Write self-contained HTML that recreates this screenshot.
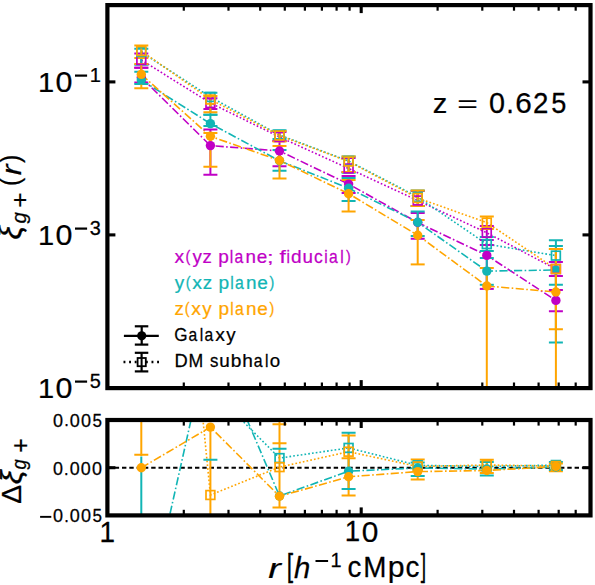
<!DOCTYPE html>
<html><head><meta charset="utf-8"><style>
html,body{margin:0;padding:0;background:#fff;width:595px;height:585px;overflow:hidden}
svg{display:block}
text{font-family:"Liberation Sans",sans-serif;font-kerning:none;font-variant-ligatures:none}
</style></head><body>
<svg width="595" height="585" viewBox="0 0 595 585">
<rect width="595" height="585" fill="#fff"/>
<defs><clipPath id="cu"><rect x="107.4" y="5.1" width="483.1" height="383.0"/></clipPath>
<clipPath id="cl"><rect x="107.4" y="420.0" width="483.1" height="95.39999999999998"/></clipPath></defs>
<g clip-path="url(#cu)">
<polyline points="141.3,60 210.4,103 279.5,137 348.6,168.5 417.7,200.5 486.8,232.8 555.9,269" fill="none" stroke="#c000c6" stroke-width="1.6" stroke-dasharray="1.7 2.1"/>
<polyline points="141.3,52 210.4,97 279.5,135 348.6,161 417.7,197 486.8,244.1 555.9,255.6" fill="none" stroke="#12b5b5" stroke-width="1.6" stroke-dasharray="1.7 2.1"/>
<polyline points="141.3,51 210.4,99.5 279.5,135.5 348.6,161.5 417.7,198 486.8,222.6 555.9,269" fill="none" stroke="#ffa500" stroke-width="1.6" stroke-dasharray="1.7 2.1"/>
<polyline points="141.3,77.5 210.4,145.6 279.5,151 348.6,184.1 417.7,222.5 486.8,255.4 555.9,300.4" fill="none" stroke="#c000c6" stroke-width="1.6" stroke-dasharray="8.2 2.4 1.6 2.4"/>
<polyline points="141.3,80 210.4,123.6 279.5,160.8 348.6,188.2 417.7,222.3 486.8,271.1 555.9,270" fill="none" stroke="#12b5b5" stroke-width="1.6" stroke-dasharray="8.2 2.4 1.6 2.4"/>
<polyline points="141.3,74.4 210.4,136.3 279.5,160.5 348.6,193.7 417.7,235.2 486.8,286 555.9,292" fill="none" stroke="#ffa500" stroke-width="1.6" stroke-dasharray="8.2 2.4 1.6 2.4"/>
<line x1="141.3" y1="53.4" x2="141.3" y2="67.7" stroke="#c000c6" stroke-width="2" stroke-linecap="butt"/>
<line x1="134.3" y1="53.4" x2="148.3" y2="53.4" stroke="#c000c6" stroke-width="2" stroke-linecap="butt"/>
<line x1="134.3" y1="67.7" x2="148.3" y2="67.7" stroke="#c000c6" stroke-width="2" stroke-linecap="butt"/>
<line x1="210.4" y1="98.3" x2="210.4" y2="109.1" stroke="#c000c6" stroke-width="2" stroke-linecap="butt"/>
<line x1="203.4" y1="98.3" x2="217.4" y2="98.3" stroke="#c000c6" stroke-width="2" stroke-linecap="butt"/>
<line x1="203.4" y1="109.1" x2="217.4" y2="109.1" stroke="#c000c6" stroke-width="2" stroke-linecap="butt"/>
<line x1="279.5" y1="132" x2="279.5" y2="141" stroke="#c000c6" stroke-width="2" stroke-linecap="butt"/>
<line x1="272.5" y1="132" x2="286.5" y2="132" stroke="#c000c6" stroke-width="2" stroke-linecap="butt"/>
<line x1="272.5" y1="141" x2="286.5" y2="141" stroke="#c000c6" stroke-width="2" stroke-linecap="butt"/>
<line x1="348.6" y1="158" x2="348.6" y2="172" stroke="#c000c6" stroke-width="2" stroke-linecap="butt"/>
<line x1="341.6" y1="158" x2="355.6" y2="158" stroke="#c000c6" stroke-width="2" stroke-linecap="butt"/>
<line x1="341.6" y1="172" x2="355.6" y2="172" stroke="#c000c6" stroke-width="2" stroke-linecap="butt"/>
<line x1="417.7" y1="191" x2="417.7" y2="206" stroke="#c000c6" stroke-width="2" stroke-linecap="butt"/>
<line x1="410.7" y1="191" x2="424.7" y2="191" stroke="#c000c6" stroke-width="2" stroke-linecap="butt"/>
<line x1="410.7" y1="206" x2="424.7" y2="206" stroke="#c000c6" stroke-width="2" stroke-linecap="butt"/>
<line x1="486.8" y1="226" x2="486.8" y2="240" stroke="#c000c6" stroke-width="2" stroke-linecap="butt"/>
<line x1="479.8" y1="226" x2="493.8" y2="226" stroke="#c000c6" stroke-width="2" stroke-linecap="butt"/>
<line x1="479.8" y1="240" x2="493.8" y2="240" stroke="#c000c6" stroke-width="2" stroke-linecap="butt"/>
<line x1="555.9" y1="262" x2="555.9" y2="276" stroke="#c000c6" stroke-width="2" stroke-linecap="butt"/>
<line x1="548.9" y1="262" x2="562.9" y2="262" stroke="#c000c6" stroke-width="2" stroke-linecap="butt"/>
<line x1="548.9" y1="276" x2="562.9" y2="276" stroke="#c000c6" stroke-width="2" stroke-linecap="butt"/>
<line x1="141.3" y1="67.7" x2="141.3" y2="82.6" stroke="#c000c6" stroke-width="2" stroke-linecap="butt"/>
<line x1="134.3" y1="67.7" x2="148.3" y2="67.7" stroke="#c000c6" stroke-width="2" stroke-linecap="butt"/>
<line x1="134.3" y1="82.6" x2="148.3" y2="82.6" stroke="#c000c6" stroke-width="2" stroke-linecap="butt"/>
<line x1="210.4" y1="129.6" x2="210.4" y2="174.8" stroke="#c000c6" stroke-width="2" stroke-linecap="butt"/>
<line x1="203.4" y1="129.6" x2="217.4" y2="129.6" stroke="#c000c6" stroke-width="2" stroke-linecap="butt"/>
<line x1="203.4" y1="174.8" x2="217.4" y2="174.8" stroke="#c000c6" stroke-width="2" stroke-linecap="butt"/>
<line x1="279.5" y1="141" x2="279.5" y2="166.2" stroke="#c000c6" stroke-width="2" stroke-linecap="butt"/>
<line x1="272.5" y1="141" x2="286.5" y2="141" stroke="#c000c6" stroke-width="2" stroke-linecap="butt"/>
<line x1="272.5" y1="166.2" x2="286.5" y2="166.2" stroke="#c000c6" stroke-width="2" stroke-linecap="butt"/>
<line x1="348.6" y1="175.9" x2="348.6" y2="193" stroke="#c000c6" stroke-width="2" stroke-linecap="butt"/>
<line x1="341.6" y1="175.9" x2="355.6" y2="175.9" stroke="#c000c6" stroke-width="2" stroke-linecap="butt"/>
<line x1="341.6" y1="193" x2="355.6" y2="193" stroke="#c000c6" stroke-width="2" stroke-linecap="butt"/>
<line x1="417.7" y1="213" x2="417.7" y2="238.7" stroke="#c000c6" stroke-width="2" stroke-linecap="butt"/>
<line x1="410.7" y1="213" x2="424.7" y2="213" stroke="#c000c6" stroke-width="2" stroke-linecap="butt"/>
<line x1="410.7" y1="238.7" x2="424.7" y2="238.7" stroke="#c000c6" stroke-width="2" stroke-linecap="butt"/>
<line x1="486.8" y1="245" x2="486.8" y2="288.9" stroke="#c000c6" stroke-width="2" stroke-linecap="butt"/>
<line x1="479.8" y1="245" x2="493.8" y2="245" stroke="#c000c6" stroke-width="2" stroke-linecap="butt"/>
<line x1="479.8" y1="288.9" x2="493.8" y2="288.9" stroke="#c000c6" stroke-width="2" stroke-linecap="butt"/>
<line x1="555.9" y1="290" x2="555.9" y2="311.2" stroke="#c000c6" stroke-width="2" stroke-linecap="butt"/>
<line x1="548.9" y1="290" x2="562.9" y2="290" stroke="#c000c6" stroke-width="2" stroke-linecap="butt"/>
<line x1="548.9" y1="311.2" x2="562.9" y2="311.2" stroke="#c000c6" stroke-width="2" stroke-linecap="butt"/>
<line x1="141.3" y1="48.8" x2="141.3" y2="64.7" stroke="#12b5b5" stroke-width="2" stroke-linecap="butt"/>
<line x1="134.3" y1="48.8" x2="148.3" y2="48.8" stroke="#12b5b5" stroke-width="2" stroke-linecap="butt"/>
<line x1="134.3" y1="64.7" x2="148.3" y2="64.7" stroke="#12b5b5" stroke-width="2" stroke-linecap="butt"/>
<line x1="210.4" y1="92.7" x2="210.4" y2="114.7" stroke="#12b5b5" stroke-width="2" stroke-linecap="butt"/>
<line x1="203.4" y1="92.7" x2="217.4" y2="92.7" stroke="#12b5b5" stroke-width="2" stroke-linecap="butt"/>
<line x1="203.4" y1="114.7" x2="217.4" y2="114.7" stroke="#12b5b5" stroke-width="2" stroke-linecap="butt"/>
<line x1="279.5" y1="130.3" x2="279.5" y2="139" stroke="#12b5b5" stroke-width="2" stroke-linecap="butt"/>
<line x1="272.5" y1="130.3" x2="286.5" y2="130.3" stroke="#12b5b5" stroke-width="2" stroke-linecap="butt"/>
<line x1="272.5" y1="139" x2="286.5" y2="139" stroke="#12b5b5" stroke-width="2" stroke-linecap="butt"/>
<line x1="348.6" y1="156.4" x2="348.6" y2="172.8" stroke="#12b5b5" stroke-width="2" stroke-linecap="butt"/>
<line x1="341.6" y1="156.4" x2="355.6" y2="156.4" stroke="#12b5b5" stroke-width="2" stroke-linecap="butt"/>
<line x1="341.6" y1="172.8" x2="355.6" y2="172.8" stroke="#12b5b5" stroke-width="2" stroke-linecap="butt"/>
<line x1="417.7" y1="190.5" x2="417.7" y2="205.9" stroke="#12b5b5" stroke-width="2" stroke-linecap="butt"/>
<line x1="410.7" y1="190.5" x2="424.7" y2="190.5" stroke="#12b5b5" stroke-width="2" stroke-linecap="butt"/>
<line x1="410.7" y1="205.9" x2="424.7" y2="205.9" stroke="#12b5b5" stroke-width="2" stroke-linecap="butt"/>
<line x1="486.8" y1="237" x2="486.8" y2="251" stroke="#12b5b5" stroke-width="2" stroke-linecap="butt"/>
<line x1="479.8" y1="237" x2="493.8" y2="237" stroke="#12b5b5" stroke-width="2" stroke-linecap="butt"/>
<line x1="479.8" y1="251" x2="493.8" y2="251" stroke="#12b5b5" stroke-width="2" stroke-linecap="butt"/>
<line x1="555.9" y1="246" x2="555.9" y2="284.7" stroke="#12b5b5" stroke-width="2" stroke-linecap="butt"/>
<line x1="548.9" y1="246" x2="562.9" y2="246" stroke="#12b5b5" stroke-width="2" stroke-linecap="butt"/>
<line x1="548.9" y1="284.7" x2="562.9" y2="284.7" stroke="#12b5b5" stroke-width="2" stroke-linecap="butt"/>
<line x1="141.3" y1="71.8" x2="141.3" y2="84" stroke="#12b5b5" stroke-width="2" stroke-linecap="butt"/>
<line x1="134.3" y1="71.8" x2="148.3" y2="71.8" stroke="#12b5b5" stroke-width="2" stroke-linecap="butt"/>
<line x1="134.3" y1="84" x2="148.3" y2="84" stroke="#12b5b5" stroke-width="2" stroke-linecap="butt"/>
<line x1="210.4" y1="114.7" x2="210.4" y2="126" stroke="#12b5b5" stroke-width="2" stroke-linecap="butt"/>
<line x1="203.4" y1="114.7" x2="217.4" y2="114.7" stroke="#12b5b5" stroke-width="2" stroke-linecap="butt"/>
<line x1="203.4" y1="126" x2="217.4" y2="126" stroke="#12b5b5" stroke-width="2" stroke-linecap="butt"/>
<line x1="279.5" y1="150" x2="279.5" y2="170.8" stroke="#12b5b5" stroke-width="2" stroke-linecap="butt"/>
<line x1="272.5" y1="150" x2="286.5" y2="150" stroke="#12b5b5" stroke-width="2" stroke-linecap="butt"/>
<line x1="272.5" y1="170.8" x2="286.5" y2="170.8" stroke="#12b5b5" stroke-width="2" stroke-linecap="butt"/>
<line x1="348.6" y1="178" x2="348.6" y2="200.9" stroke="#12b5b5" stroke-width="2" stroke-linecap="butt"/>
<line x1="341.6" y1="178" x2="355.6" y2="178" stroke="#12b5b5" stroke-width="2" stroke-linecap="butt"/>
<line x1="341.6" y1="200.9" x2="355.6" y2="200.9" stroke="#12b5b5" stroke-width="2" stroke-linecap="butt"/>
<line x1="417.7" y1="211.6" x2="417.7" y2="236" stroke="#12b5b5" stroke-width="2" stroke-linecap="butt"/>
<line x1="410.7" y1="211.6" x2="424.7" y2="211.6" stroke="#12b5b5" stroke-width="2" stroke-linecap="butt"/>
<line x1="410.7" y1="236" x2="424.7" y2="236" stroke="#12b5b5" stroke-width="2" stroke-linecap="butt"/>
<line x1="486.8" y1="258" x2="486.8" y2="284.8" stroke="#12b5b5" stroke-width="2" stroke-linecap="butt"/>
<line x1="479.8" y1="258" x2="493.8" y2="258" stroke="#12b5b5" stroke-width="2" stroke-linecap="butt"/>
<line x1="479.8" y1="284.8" x2="493.8" y2="284.8" stroke="#12b5b5" stroke-width="2" stroke-linecap="butt"/>
<line x1="555.9" y1="240.3" x2="555.9" y2="342.5" stroke="#12b5b5" stroke-width="2" stroke-linecap="butt"/>
<line x1="548.9" y1="240.3" x2="562.9" y2="240.3" stroke="#12b5b5" stroke-width="2" stroke-linecap="butt"/>
<line x1="548.9" y1="342.5" x2="562.9" y2="342.5" stroke="#12b5b5" stroke-width="2" stroke-linecap="butt"/>
<line x1="141.3" y1="45.4" x2="141.3" y2="58" stroke="#ffa500" stroke-width="2" stroke-linecap="butt"/>
<line x1="134.3" y1="45.4" x2="148.3" y2="45.4" stroke="#ffa500" stroke-width="2" stroke-linecap="butt"/>
<line x1="134.3" y1="58" x2="148.3" y2="58" stroke="#ffa500" stroke-width="2" stroke-linecap="butt"/>
<line x1="210.4" y1="96" x2="210.4" y2="112.2" stroke="#ffa500" stroke-width="2" stroke-linecap="butt"/>
<line x1="203.4" y1="96" x2="217.4" y2="96" stroke="#ffa500" stroke-width="2" stroke-linecap="butt"/>
<line x1="203.4" y1="112.2" x2="217.4" y2="112.2" stroke="#ffa500" stroke-width="2" stroke-linecap="butt"/>
<line x1="279.5" y1="131" x2="279.5" y2="141.5" stroke="#ffa500" stroke-width="2" stroke-linecap="butt"/>
<line x1="272.5" y1="131" x2="286.5" y2="131" stroke="#ffa500" stroke-width="2" stroke-linecap="butt"/>
<line x1="272.5" y1="141.5" x2="286.5" y2="141.5" stroke="#ffa500" stroke-width="2" stroke-linecap="butt"/>
<line x1="348.6" y1="156.4" x2="348.6" y2="172" stroke="#ffa500" stroke-width="2" stroke-linecap="butt"/>
<line x1="341.6" y1="156.4" x2="355.6" y2="156.4" stroke="#ffa500" stroke-width="2" stroke-linecap="butt"/>
<line x1="341.6" y1="172" x2="355.6" y2="172" stroke="#ffa500" stroke-width="2" stroke-linecap="butt"/>
<line x1="417.7" y1="190.5" x2="417.7" y2="205.9" stroke="#ffa500" stroke-width="2" stroke-linecap="butt"/>
<line x1="410.7" y1="190.5" x2="424.7" y2="190.5" stroke="#ffa500" stroke-width="2" stroke-linecap="butt"/>
<line x1="410.7" y1="205.9" x2="424.7" y2="205.9" stroke="#ffa500" stroke-width="2" stroke-linecap="butt"/>
<line x1="486.8" y1="216.4" x2="486.8" y2="229" stroke="#ffa500" stroke-width="2" stroke-linecap="butt"/>
<line x1="479.8" y1="216.4" x2="493.8" y2="216.4" stroke="#ffa500" stroke-width="2" stroke-linecap="butt"/>
<line x1="479.8" y1="229" x2="493.8" y2="229" stroke="#ffa500" stroke-width="2" stroke-linecap="butt"/>
<line x1="555.9" y1="248.9" x2="555.9" y2="329.3" stroke="#ffa500" stroke-width="2" stroke-linecap="butt"/>
<line x1="548.9" y1="248.9" x2="562.9" y2="248.9" stroke="#ffa500" stroke-width="2" stroke-linecap="butt"/>
<line x1="548.9" y1="329.3" x2="562.9" y2="329.3" stroke="#ffa500" stroke-width="2" stroke-linecap="butt"/>
<line x1="141.3" y1="64" x2="141.3" y2="88.3" stroke="#ffa500" stroke-width="2" stroke-linecap="butt"/>
<line x1="134.3" y1="64" x2="148.3" y2="64" stroke="#ffa500" stroke-width="2" stroke-linecap="butt"/>
<line x1="134.3" y1="88.3" x2="148.3" y2="88.3" stroke="#ffa500" stroke-width="2" stroke-linecap="butt"/>
<line x1="210.4" y1="133" x2="210.4" y2="166.8" stroke="#ffa500" stroke-width="2" stroke-linecap="butt"/>
<line x1="203.4" y1="133" x2="217.4" y2="133" stroke="#ffa500" stroke-width="2" stroke-linecap="butt"/>
<line x1="203.4" y1="166.8" x2="217.4" y2="166.8" stroke="#ffa500" stroke-width="2" stroke-linecap="butt"/>
<line x1="279.5" y1="146" x2="279.5" y2="178.5" stroke="#ffa500" stroke-width="2" stroke-linecap="butt"/>
<line x1="272.5" y1="146" x2="286.5" y2="146" stroke="#ffa500" stroke-width="2" stroke-linecap="butt"/>
<line x1="272.5" y1="178.5" x2="286.5" y2="178.5" stroke="#ffa500" stroke-width="2" stroke-linecap="butt"/>
<line x1="348.6" y1="180" x2="348.6" y2="211.4" stroke="#ffa500" stroke-width="2" stroke-linecap="butt"/>
<line x1="341.6" y1="180" x2="355.6" y2="180" stroke="#ffa500" stroke-width="2" stroke-linecap="butt"/>
<line x1="341.6" y1="211.4" x2="355.6" y2="211.4" stroke="#ffa500" stroke-width="2" stroke-linecap="butt"/>
<line x1="417.7" y1="220" x2="417.7" y2="264.4" stroke="#ffa500" stroke-width="2" stroke-linecap="butt"/>
<line x1="410.7" y1="220" x2="424.7" y2="220" stroke="#ffa500" stroke-width="2" stroke-linecap="butt"/>
<line x1="410.7" y1="264.4" x2="424.7" y2="264.4" stroke="#ffa500" stroke-width="2" stroke-linecap="butt"/>
<line x1="486.8" y1="268" x2="486.8" y2="400" stroke="#ffa500" stroke-width="2" stroke-linecap="butt"/>
<line x1="479.8" y1="268" x2="493.8" y2="268" stroke="#ffa500" stroke-width="2" stroke-linecap="butt"/>
<line x1="555.9" y1="248.9" x2="555.9" y2="400" stroke="#ffa500" stroke-width="2" stroke-linecap="butt"/>
<line x1="548.9" y1="248.9" x2="562.9" y2="248.9" stroke="#ffa500" stroke-width="2" stroke-linecap="butt"/>
<circle cx="141.3" cy="77.5" r="4.7" fill="#c000c6"/>
<circle cx="210.4" cy="145.6" r="4.7" fill="#c000c6"/>
<circle cx="279.5" cy="151" r="4.7" fill="#c000c6"/>
<circle cx="348.6" cy="184.1" r="4.7" fill="#c000c6"/>
<circle cx="417.7" cy="222.5" r="4.7" fill="#c000c6"/>
<circle cx="486.8" cy="255.4" r="4.7" fill="#c000c6"/>
<circle cx="555.9" cy="300.4" r="4.7" fill="#c000c6"/>
<circle cx="141.3" cy="80" r="4.7" fill="#12b5b5"/>
<circle cx="210.4" cy="123.6" r="4.7" fill="#12b5b5"/>
<circle cx="279.5" cy="160.8" r="4.7" fill="#12b5b5"/>
<circle cx="348.6" cy="188.2" r="4.7" fill="#12b5b5"/>
<circle cx="417.7" cy="222.3" r="4.7" fill="#12b5b5"/>
<circle cx="486.8" cy="271.1" r="4.7" fill="#12b5b5"/>
<circle cx="555.9" cy="270" r="4.7" fill="#12b5b5"/>
<circle cx="141.3" cy="74.4" r="4.7" fill="#ffa500"/>
<circle cx="210.4" cy="136.3" r="4.7" fill="#ffa500"/>
<circle cx="279.5" cy="160.5" r="4.7" fill="#ffa500"/>
<circle cx="348.6" cy="193.7" r="4.7" fill="#ffa500"/>
<circle cx="417.7" cy="235.2" r="4.7" fill="#ffa500"/>
<circle cx="486.8" cy="286" r="4.7" fill="#ffa500"/>
<circle cx="555.9" cy="292" r="4.7" fill="#ffa500"/>
<rect x="136.9" y="55.6" width="8.8" height="8.8" fill="none" stroke="#c000c6" stroke-width="1.7"/>
<rect x="206" y="98.6" width="8.8" height="8.8" fill="none" stroke="#c000c6" stroke-width="1.7"/>
<rect x="275.1" y="132.6" width="8.8" height="8.8" fill="none" stroke="#c000c6" stroke-width="1.7"/>
<rect x="344.2" y="164.1" width="8.8" height="8.8" fill="none" stroke="#c000c6" stroke-width="1.7"/>
<rect x="413.3" y="196.1" width="8.8" height="8.8" fill="none" stroke="#c000c6" stroke-width="1.7"/>
<rect x="482.4" y="228.4" width="8.8" height="8.8" fill="none" stroke="#c000c6" stroke-width="1.7"/>
<rect x="551.5" y="264.6" width="8.8" height="8.8" fill="none" stroke="#c000c6" stroke-width="1.7"/>
<rect x="136.9" y="47.6" width="8.8" height="8.8" fill="none" stroke="#12b5b5" stroke-width="1.7"/>
<rect x="206" y="92.6" width="8.8" height="8.8" fill="none" stroke="#12b5b5" stroke-width="1.7"/>
<rect x="275.1" y="130.6" width="8.8" height="8.8" fill="none" stroke="#12b5b5" stroke-width="1.7"/>
<rect x="344.2" y="156.6" width="8.8" height="8.8" fill="none" stroke="#12b5b5" stroke-width="1.7"/>
<rect x="413.3" y="192.6" width="8.8" height="8.8" fill="none" stroke="#12b5b5" stroke-width="1.7"/>
<rect x="482.4" y="239.7" width="8.8" height="8.8" fill="none" stroke="#12b5b5" stroke-width="1.7"/>
<rect x="551.5" y="251.2" width="8.8" height="8.8" fill="none" stroke="#12b5b5" stroke-width="1.7"/>
<rect x="136.9" y="46.6" width="8.8" height="8.8" fill="none" stroke="#ffa500" stroke-width="1.7"/>
<rect x="206" y="95.1" width="8.8" height="8.8" fill="none" stroke="#ffa500" stroke-width="1.7"/>
<rect x="275.1" y="131.1" width="8.8" height="8.8" fill="none" stroke="#ffa500" stroke-width="1.7"/>
<rect x="344.2" y="157.1" width="8.8" height="8.8" fill="none" stroke="#ffa500" stroke-width="1.7"/>
<rect x="413.3" y="193.6" width="8.8" height="8.8" fill="none" stroke="#ffa500" stroke-width="1.7"/>
<rect x="482.4" y="218.2" width="8.8" height="8.8" fill="none" stroke="#ffa500" stroke-width="1.7"/>
<rect x="551.5" y="264.6" width="8.8" height="8.8" fill="none" stroke="#ffa500" stroke-width="1.7"/>
</g>
<g clip-path="url(#cl)">
<line x1="107.4" y1="467.7" x2="590.5" y2="467.7" stroke="#000" stroke-width="1.9" stroke-linecap="butt" stroke-dasharray="4.4 2.9"/>
<polyline points="141.3,300 210.4,388.6 279.5,458.1 348.6,447.9 417.7,465.3 486.8,466.5 555.9,465" fill="none" stroke="#12b5b5" stroke-width="1.6" stroke-dasharray="1.7 2.1"/>
<polyline points="141.3,-205 210.4,495 279.5,467.1 348.6,451.7 417.7,466.5 486.8,465 555.9,466" fill="none" stroke="#ffa500" stroke-width="1.6" stroke-dasharray="1.7 2.1"/>
<polyline points="141.3,642 210.4,333.5 279.5,496 348.6,471.2 417.7,468 486.8,469 555.9,467" fill="none" stroke="#12b5b5" stroke-width="1.6" stroke-dasharray="8.2 2.4 1.6 2.4"/>
<polyline points="141.3,467.8 210.4,427.1 279.5,496.3 348.6,476.8 417.7,471.6 486.8,470.5 555.9,466.5" fill="none" stroke="#ffa500" stroke-width="1.6" stroke-dasharray="8.2 2.4 1.6 2.4"/>
<line x1="141.3" y1="400" x2="141.3" y2="456" stroke="#ffa500" stroke-width="2" stroke-linecap="butt"/>
<line x1="141.3" y1="456.5" x2="141.3" y2="530" stroke="#12b5b5" stroke-width="2" stroke-linecap="butt"/>
<line x1="210.4" y1="427" x2="210.4" y2="530" stroke="#ffa500" stroke-width="2" stroke-linecap="butt"/>
<line x1="279.5" y1="400" x2="279.5" y2="507.5" stroke="#ffa500" stroke-width="2" stroke-linecap="butt"/>
<line x1="348.6" y1="432.7" x2="348.6" y2="489" stroke="#12b5b5" stroke-width="2" stroke-linecap="butt"/>
<line x1="348.6" y1="435.4" x2="348.6" y2="495.5" stroke="#ffa500" stroke-width="2" stroke-linecap="butt"/>
<line x1="417.7" y1="459.4" x2="417.7" y2="479.4" stroke="#ffa500" stroke-width="2" stroke-linecap="butt"/>
<line x1="486.8" y1="462" x2="486.8" y2="475.6" stroke="#12b5b5" stroke-width="2" stroke-linecap="butt"/>
<line x1="486.8" y1="459.7" x2="486.8" y2="473" stroke="#ffa500" stroke-width="2" stroke-linecap="butt"/>
<line x1="555.9" y1="462" x2="555.9" y2="471.2" stroke="#12b5b5" stroke-width="2" stroke-linecap="butt"/>
<line x1="555.9" y1="463" x2="555.9" y2="471.2" stroke="#ffa500" stroke-width="2" stroke-linecap="butt"/>
<line x1="134.3" y1="454.7" x2="148.3" y2="454.7" stroke="#ffa500" stroke-width="2" stroke-linecap="butt"/>
<line x1="203.4" y1="459.7" x2="217.4" y2="459.7" stroke="#12b5b5" stroke-width="2" stroke-linecap="butt"/>
<line x1="272.5" y1="424.3" x2="286.5" y2="424.3" stroke="#ffa500" stroke-width="2" stroke-linecap="butt"/>
<line x1="272.5" y1="443.2" x2="286.5" y2="443.2" stroke="#ffa500" stroke-width="2" stroke-linecap="butt"/>
<line x1="272.5" y1="448.8" x2="286.5" y2="448.8" stroke="#12b5b5" stroke-width="2" stroke-linecap="butt"/>
<line x1="272.5" y1="507.5" x2="286.5" y2="507.5" stroke="#ffa500" stroke-width="2" stroke-linecap="butt"/>
<line x1="341.6" y1="432.7" x2="355.6" y2="432.7" stroke="#12b5b5" stroke-width="2" stroke-linecap="butt"/>
<line x1="341.6" y1="435.4" x2="355.6" y2="435.4" stroke="#ffa500" stroke-width="2" stroke-linecap="butt"/>
<line x1="341.6" y1="458.2" x2="355.6" y2="458.2" stroke="#ffa500" stroke-width="2" stroke-linecap="butt"/>
<line x1="341.6" y1="489" x2="355.6" y2="489" stroke="#12b5b5" stroke-width="2" stroke-linecap="butt"/>
<line x1="341.6" y1="495.5" x2="355.6" y2="495.5" stroke="#ffa500" stroke-width="2" stroke-linecap="butt"/>
<line x1="410.7" y1="459.4" x2="424.7" y2="459.4" stroke="#ffa500" stroke-width="2" stroke-linecap="butt"/>
<line x1="410.7" y1="462.5" x2="424.7" y2="462.5" stroke="#12b5b5" stroke-width="2" stroke-linecap="butt"/>
<line x1="410.7" y1="476" x2="424.7" y2="476" stroke="#12b5b5" stroke-width="2" stroke-linecap="butt"/>
<line x1="410.7" y1="479.4" x2="424.7" y2="479.4" stroke="#ffa500" stroke-width="2" stroke-linecap="butt"/>
<line x1="479.8" y1="462" x2="493.8" y2="462" stroke="#12b5b5" stroke-width="2" stroke-linecap="butt"/>
<line x1="479.8" y1="459.7" x2="493.8" y2="459.7" stroke="#ffa500" stroke-width="2" stroke-linecap="butt"/>
<line x1="479.8" y1="475.6" x2="493.8" y2="475.6" stroke="#12b5b5" stroke-width="2" stroke-linecap="butt"/>
<line x1="479.8" y1="473" x2="493.8" y2="473" stroke="#ffa500" stroke-width="2" stroke-linecap="butt"/>
<line x1="548.9" y1="462" x2="562.9" y2="462" stroke="#12b5b5" stroke-width="2" stroke-linecap="butt"/>
<line x1="548.9" y1="463.5" x2="562.9" y2="463.5" stroke="#ffa500" stroke-width="2" stroke-linecap="butt"/>
<line x1="548.9" y1="471.2" x2="562.9" y2="471.2" stroke="#ffa500" stroke-width="2" stroke-linecap="butt"/>
<line x1="548.9" y1="470" x2="562.9" y2="470" stroke="#12b5b5" stroke-width="2" stroke-linecap="butt"/>
<rect x="136.9" y="295.6" width="8.8" height="8.8" fill="none" stroke="#12b5b5" stroke-width="1.7"/>
<rect x="206" y="384.2" width="8.8" height="8.8" fill="none" stroke="#12b5b5" stroke-width="1.7"/>
<rect x="275.1" y="453.7" width="8.8" height="8.8" fill="none" stroke="#12b5b5" stroke-width="1.7"/>
<rect x="344.2" y="443.5" width="8.8" height="8.8" fill="none" stroke="#12b5b5" stroke-width="1.7"/>
<rect x="413.3" y="460.9" width="8.8" height="8.8" fill="none" stroke="#12b5b5" stroke-width="1.7"/>
<rect x="482.4" y="462.1" width="8.8" height="8.8" fill="none" stroke="#12b5b5" stroke-width="1.7"/>
<rect x="551.5" y="460.6" width="8.8" height="8.8" fill="none" stroke="#12b5b5" stroke-width="1.7"/>
<rect x="136.9" y="-209.4" width="8.8" height="8.8" fill="none" stroke="#ffa500" stroke-width="1.7"/>
<rect x="206" y="490.6" width="8.8" height="8.8" fill="none" stroke="#ffa500" stroke-width="1.7"/>
<rect x="275.1" y="462.7" width="8.8" height="8.8" fill="none" stroke="#ffa500" stroke-width="1.7"/>
<rect x="344.2" y="447.3" width="8.8" height="8.8" fill="none" stroke="#ffa500" stroke-width="1.7"/>
<rect x="413.3" y="462.1" width="8.8" height="8.8" fill="none" stroke="#ffa500" stroke-width="1.7"/>
<rect x="482.4" y="460.6" width="8.8" height="8.8" fill="none" stroke="#ffa500" stroke-width="1.7"/>
<rect x="551.5" y="461.6" width="8.8" height="8.8" fill="none" stroke="#ffa500" stroke-width="1.7"/>
<circle cx="141.3" cy="642" r="4.7" fill="#12b5b5"/>
<circle cx="210.4" cy="333.5" r="4.7" fill="#12b5b5"/>
<circle cx="279.5" cy="496" r="4.7" fill="#12b5b5"/>
<circle cx="348.6" cy="471.2" r="4.7" fill="#12b5b5"/>
<circle cx="417.7" cy="468" r="4.7" fill="#12b5b5"/>
<circle cx="486.8" cy="469" r="4.7" fill="#12b5b5"/>
<circle cx="555.9" cy="467" r="4.7" fill="#12b5b5"/>
<circle cx="141.3" cy="467.8" r="4.7" fill="#ffa500"/>
<circle cx="210.4" cy="427.1" r="4.7" fill="#ffa500"/>
<circle cx="279.5" cy="496.3" r="4.7" fill="#ffa500"/>
<circle cx="348.6" cy="476.8" r="4.7" fill="#ffa500"/>
<circle cx="417.7" cy="471.6" r="4.7" fill="#ffa500"/>
<circle cx="486.8" cy="470.5" r="4.7" fill="#ffa500"/>
<circle cx="555.9" cy="466.5" r="4.7" fill="#ffa500"/>
</g>
<rect x="107.4" y="5.1" width="483.1" height="383" fill="none" stroke="#000" stroke-width="4.2"/>
<rect x="107.4" y="420" width="483.1" height="95.4" fill="none" stroke="#000" stroke-width="4.2"/>
<line x1="183.8" y1="5.1" x2="183.8" y2="10.7" stroke="#000" stroke-width="2.2" stroke-linecap="butt"/>
<line x1="183.8" y1="388.1" x2="183.8" y2="382.5" stroke="#000" stroke-width="2.2" stroke-linecap="butt"/>
<line x1="228.49" y1="5.1" x2="228.49" y2="10.7" stroke="#000" stroke-width="2.2" stroke-linecap="butt"/>
<line x1="228.49" y1="388.1" x2="228.49" y2="382.5" stroke="#000" stroke-width="2.2" stroke-linecap="butt"/>
<line x1="260.2" y1="5.1" x2="260.2" y2="10.7" stroke="#000" stroke-width="2.2" stroke-linecap="butt"/>
<line x1="260.2" y1="388.1" x2="260.2" y2="382.5" stroke="#000" stroke-width="2.2" stroke-linecap="butt"/>
<line x1="284.8" y1="5.1" x2="284.8" y2="10.7" stroke="#000" stroke-width="2.2" stroke-linecap="butt"/>
<line x1="284.8" y1="388.1" x2="284.8" y2="382.5" stroke="#000" stroke-width="2.2" stroke-linecap="butt"/>
<line x1="304.89" y1="5.1" x2="304.89" y2="10.7" stroke="#000" stroke-width="2.2" stroke-linecap="butt"/>
<line x1="304.89" y1="388.1" x2="304.89" y2="382.5" stroke="#000" stroke-width="2.2" stroke-linecap="butt"/>
<line x1="321.89" y1="5.1" x2="321.89" y2="10.7" stroke="#000" stroke-width="2.2" stroke-linecap="butt"/>
<line x1="321.89" y1="388.1" x2="321.89" y2="382.5" stroke="#000" stroke-width="2.2" stroke-linecap="butt"/>
<line x1="336.6" y1="5.1" x2="336.6" y2="10.7" stroke="#000" stroke-width="2.2" stroke-linecap="butt"/>
<line x1="336.6" y1="388.1" x2="336.6" y2="382.5" stroke="#000" stroke-width="2.2" stroke-linecap="butt"/>
<line x1="349.59" y1="5.1" x2="349.59" y2="10.7" stroke="#000" stroke-width="2.2" stroke-linecap="butt"/>
<line x1="349.59" y1="388.1" x2="349.59" y2="382.5" stroke="#000" stroke-width="2.2" stroke-linecap="butt"/>
<line x1="437.6" y1="5.1" x2="437.6" y2="10.7" stroke="#000" stroke-width="2.2" stroke-linecap="butt"/>
<line x1="437.6" y1="388.1" x2="437.6" y2="382.5" stroke="#000" stroke-width="2.2" stroke-linecap="butt"/>
<line x1="482.29" y1="5.1" x2="482.29" y2="10.7" stroke="#000" stroke-width="2.2" stroke-linecap="butt"/>
<line x1="482.29" y1="388.1" x2="482.29" y2="382.5" stroke="#000" stroke-width="2.2" stroke-linecap="butt"/>
<line x1="514" y1="5.1" x2="514" y2="10.7" stroke="#000" stroke-width="2.2" stroke-linecap="butt"/>
<line x1="514" y1="388.1" x2="514" y2="382.5" stroke="#000" stroke-width="2.2" stroke-linecap="butt"/>
<line x1="538.6" y1="5.1" x2="538.6" y2="10.7" stroke="#000" stroke-width="2.2" stroke-linecap="butt"/>
<line x1="538.6" y1="388.1" x2="538.6" y2="382.5" stroke="#000" stroke-width="2.2" stroke-linecap="butt"/>
<line x1="558.69" y1="5.1" x2="558.69" y2="10.7" stroke="#000" stroke-width="2.2" stroke-linecap="butt"/>
<line x1="558.69" y1="388.1" x2="558.69" y2="382.5" stroke="#000" stroke-width="2.2" stroke-linecap="butt"/>
<line x1="575.69" y1="5.1" x2="575.69" y2="10.7" stroke="#000" stroke-width="2.2" stroke-linecap="butt"/>
<line x1="575.69" y1="388.1" x2="575.69" y2="382.5" stroke="#000" stroke-width="2.2" stroke-linecap="butt"/>
<line x1="361.2" y1="5.1" x2="361.2" y2="13.1" stroke="#000" stroke-width="3.1" stroke-linecap="butt"/>
<line x1="361.2" y1="388.1" x2="361.2" y2="380.1" stroke="#000" stroke-width="3.1" stroke-linecap="butt"/>
<line x1="183.8" y1="420" x2="183.8" y2="425.6" stroke="#000" stroke-width="2.2" stroke-linecap="butt"/>
<line x1="183.8" y1="515.4" x2="183.8" y2="509.8" stroke="#000" stroke-width="2.2" stroke-linecap="butt"/>
<line x1="228.49" y1="420" x2="228.49" y2="425.6" stroke="#000" stroke-width="2.2" stroke-linecap="butt"/>
<line x1="228.49" y1="515.4" x2="228.49" y2="509.8" stroke="#000" stroke-width="2.2" stroke-linecap="butt"/>
<line x1="260.2" y1="420" x2="260.2" y2="425.6" stroke="#000" stroke-width="2.2" stroke-linecap="butt"/>
<line x1="260.2" y1="515.4" x2="260.2" y2="509.8" stroke="#000" stroke-width="2.2" stroke-linecap="butt"/>
<line x1="284.8" y1="420" x2="284.8" y2="425.6" stroke="#000" stroke-width="2.2" stroke-linecap="butt"/>
<line x1="284.8" y1="515.4" x2="284.8" y2="509.8" stroke="#000" stroke-width="2.2" stroke-linecap="butt"/>
<line x1="304.89" y1="420" x2="304.89" y2="425.6" stroke="#000" stroke-width="2.2" stroke-linecap="butt"/>
<line x1="304.89" y1="515.4" x2="304.89" y2="509.8" stroke="#000" stroke-width="2.2" stroke-linecap="butt"/>
<line x1="321.89" y1="420" x2="321.89" y2="425.6" stroke="#000" stroke-width="2.2" stroke-linecap="butt"/>
<line x1="321.89" y1="515.4" x2="321.89" y2="509.8" stroke="#000" stroke-width="2.2" stroke-linecap="butt"/>
<line x1="336.6" y1="420" x2="336.6" y2="425.6" stroke="#000" stroke-width="2.2" stroke-linecap="butt"/>
<line x1="336.6" y1="515.4" x2="336.6" y2="509.8" stroke="#000" stroke-width="2.2" stroke-linecap="butt"/>
<line x1="349.59" y1="420" x2="349.59" y2="425.6" stroke="#000" stroke-width="2.2" stroke-linecap="butt"/>
<line x1="349.59" y1="515.4" x2="349.59" y2="509.8" stroke="#000" stroke-width="2.2" stroke-linecap="butt"/>
<line x1="437.6" y1="420" x2="437.6" y2="425.6" stroke="#000" stroke-width="2.2" stroke-linecap="butt"/>
<line x1="437.6" y1="515.4" x2="437.6" y2="509.8" stroke="#000" stroke-width="2.2" stroke-linecap="butt"/>
<line x1="482.29" y1="420" x2="482.29" y2="425.6" stroke="#000" stroke-width="2.2" stroke-linecap="butt"/>
<line x1="482.29" y1="515.4" x2="482.29" y2="509.8" stroke="#000" stroke-width="2.2" stroke-linecap="butt"/>
<line x1="514" y1="420" x2="514" y2="425.6" stroke="#000" stroke-width="2.2" stroke-linecap="butt"/>
<line x1="514" y1="515.4" x2="514" y2="509.8" stroke="#000" stroke-width="2.2" stroke-linecap="butt"/>
<line x1="538.6" y1="420" x2="538.6" y2="425.6" stroke="#000" stroke-width="2.2" stroke-linecap="butt"/>
<line x1="538.6" y1="515.4" x2="538.6" y2="509.8" stroke="#000" stroke-width="2.2" stroke-linecap="butt"/>
<line x1="558.69" y1="420" x2="558.69" y2="425.6" stroke="#000" stroke-width="2.2" stroke-linecap="butt"/>
<line x1="558.69" y1="515.4" x2="558.69" y2="509.8" stroke="#000" stroke-width="2.2" stroke-linecap="butt"/>
<line x1="575.69" y1="420" x2="575.69" y2="425.6" stroke="#000" stroke-width="2.2" stroke-linecap="butt"/>
<line x1="575.69" y1="515.4" x2="575.69" y2="509.8" stroke="#000" stroke-width="2.2" stroke-linecap="butt"/>
<line x1="361.2" y1="420" x2="361.2" y2="428" stroke="#000" stroke-width="3.1" stroke-linecap="butt"/>
<line x1="361.2" y1="515.4" x2="361.2" y2="507.4" stroke="#000" stroke-width="3.1" stroke-linecap="butt"/>
<line x1="107.4" y1="81.9" x2="115.4" y2="81.9" stroke="#000" stroke-width="3.1" stroke-linecap="butt"/>
<line x1="590.5" y1="81.9" x2="582.5" y2="81.9" stroke="#000" stroke-width="3.1" stroke-linecap="butt"/>
<line x1="107.4" y1="234.9" x2="115.4" y2="234.9" stroke="#000" stroke-width="3.1" stroke-linecap="butt"/>
<line x1="590.5" y1="234.9" x2="582.5" y2="234.9" stroke="#000" stroke-width="3.1" stroke-linecap="butt"/>
<line x1="107.4" y1="467.7" x2="115.4" y2="467.7" stroke="#000" stroke-width="3.1" stroke-linecap="butt"/>
<line x1="590.5" y1="467.7" x2="582.5" y2="467.7" stroke="#000" stroke-width="3.1" stroke-linecap="butt"/>
<text transform="translate(37.91 91.68) scale(0.2911 0.2842)" font-size="100" font-style="normal" fill="#000" stroke="#000" stroke-width="0.87" stroke-linejoin="round">1</text>
<text transform="translate(55.44 92.09) scale(0.3044 0.2952)" font-size="100" font-style="normal" fill="#000" stroke="#000" stroke-width="0.83" stroke-linejoin="round">0</text>
<rect x="75" y="74.5" width="12.1" height="2.2" fill="#000"/>
<text transform="translate(89.7 81.58) scale(0.2006 0.1984)" font-size="100" font-style="normal" fill="#000" stroke="#000" stroke-width="1.25" stroke-linejoin="round">1</text>
<text transform="translate(37.91 244.68) scale(0.2911 0.2842)" font-size="100" font-style="normal" fill="#000" stroke="#000" stroke-width="0.87" stroke-linejoin="round">1</text>
<text transform="translate(55.44 245.09) scale(0.3044 0.2952)" font-size="100" font-style="normal" fill="#000" stroke="#000" stroke-width="0.83" stroke-linejoin="round">0</text>
<rect x="75" y="227.5" width="12.1" height="2.2" fill="#000"/>
<text transform="translate(89.87 234.58) scale(0.1993 0.2027)" font-size="100" font-style="normal" fill="#000" stroke="#000" stroke-width="1.24" stroke-linejoin="round">3</text>
<text transform="translate(37.91 397.67) scale(0.2911 0.2842)" font-size="100" font-style="normal" fill="#000" stroke="#000" stroke-width="0.87" stroke-linejoin="round">1</text>
<text transform="translate(55.44 398.09) scale(0.3044 0.2952)" font-size="100" font-style="normal" fill="#000" stroke="#000" stroke-width="0.83" stroke-linejoin="round">0</text>
<rect x="75" y="380.5" width="12.1" height="2.2" fill="#000"/>
<text transform="translate(89.83 387.57) scale(0.1993 0.2057)" font-size="100" font-style="normal" fill="#000" stroke="#000" stroke-width="1.23" stroke-linejoin="round">5</text>
<text transform="translate(53.02 426.54) scale(0.1803 0.1845)" font-size="100" font-style="normal" fill="#000" stroke="#000" stroke-width="1.37" stroke-linejoin="round">0</text>
<text transform="translate(64.15 426.48) scale(0.1642 0.1807)" font-size="100" font-style="normal" fill="#000" stroke="#000" stroke-width="1.45" stroke-linejoin="round">.</text>
<text transform="translate(69.82 426.54) scale(0.1803 0.1845)" font-size="100" font-style="normal" fill="#000" stroke="#000" stroke-width="1.37" stroke-linejoin="round">0</text>
<text transform="translate(81.02 426.54) scale(0.1803 0.1845)" font-size="100" font-style="normal" fill="#000" stroke="#000" stroke-width="1.37" stroke-linejoin="round">0</text>
<text transform="translate(92.44 426.54) scale(0.1699 0.1839)" font-size="100" font-style="normal" fill="#000" stroke="#000" stroke-width="1.41" stroke-linejoin="round">5</text>
<text transform="translate(53.03 474.64) scale(0.1789 0.1845)" font-size="100" font-style="normal" fill="#000" stroke="#000" stroke-width="1.38" stroke-linejoin="round">0</text>
<text transform="translate(64.07 474.57) scale(0.1628 0.1807)" font-size="100" font-style="normal" fill="#000" stroke="#000" stroke-width="1.46" stroke-linejoin="round">.</text>
<text transform="translate(69.69 474.64) scale(0.1789 0.1845)" font-size="100" font-style="normal" fill="#000" stroke="#000" stroke-width="1.38" stroke-linejoin="round">0</text>
<text transform="translate(80.81 474.64) scale(0.1789 0.1845)" font-size="100" font-style="normal" fill="#000" stroke="#000" stroke-width="1.38" stroke-linejoin="round">0</text>
<text transform="translate(91.92 474.64) scale(0.1789 0.1845)" font-size="100" font-style="normal" fill="#000" stroke="#000" stroke-width="1.38" stroke-linejoin="round">0</text>
<rect x="40.1" y="515.9" width="11.2" height="1.9" fill="#000"/>
<text transform="translate(53.02 522.34) scale(0.1803 0.1845)" font-size="100" font-style="normal" fill="#000" stroke="#000" stroke-width="1.37" stroke-linejoin="round">0</text>
<text transform="translate(64.15 522.27) scale(0.1642 0.1807)" font-size="100" font-style="normal" fill="#000" stroke="#000" stroke-width="1.45" stroke-linejoin="round">.</text>
<text transform="translate(69.82 522.34) scale(0.1803 0.1845)" font-size="100" font-style="normal" fill="#000" stroke="#000" stroke-width="1.37" stroke-linejoin="round">0</text>
<text transform="translate(81.02 522.34) scale(0.1803 0.1845)" font-size="100" font-style="normal" fill="#000" stroke="#000" stroke-width="1.37" stroke-linejoin="round">0</text>
<text transform="translate(92.44 522.34) scale(0.1699 0.1839)" font-size="100" font-style="normal" fill="#000" stroke="#000" stroke-width="1.41" stroke-linejoin="round">5</text>
<text transform="translate(99.6 541.58) scale(0.2795 0.2900)" font-size="100" font-style="normal" fill="#000" stroke="#000" stroke-width="0.88" stroke-linejoin="round">1</text>
<text transform="translate(344.71 541.38) scale(0.2772 0.2900)" font-size="100" font-style="normal" fill="#000" stroke="#000" stroke-width="0.88" stroke-linejoin="round">1</text>
<text transform="translate(361.86 541.59) scale(0.2981 0.2931)" font-size="100" font-style="normal" fill="#000" stroke="#000" stroke-width="0.85" stroke-linejoin="round">0</text>
<text transform="translate(432.64 112.67) scale(0.2917 0.2841)" font-size="100" font-style="normal" fill="#000" stroke="#000" stroke-width="0.87" stroke-linejoin="round">z</text>
<text transform="translate(457.28 111.85) scale(0.3530 0.2366)" font-size="100" font-style="normal" fill="#000" stroke="#000" stroke-width="0.87" stroke-linejoin="round">=</text>
<text transform="translate(488.89 112.78) scale(0.2878 0.2945)" font-size="100" font-style="normal" fill="#000" stroke="#000" stroke-width="0.86" stroke-linejoin="round">0</text>
<text transform="translate(506.33 112.67) scale(0.2745 0.3002)" font-size="100" font-style="normal" fill="#000" stroke="#000" stroke-width="0.87" stroke-linejoin="round">.</text>
<text transform="translate(515.13 112.78) scale(0.2978 0.2945)" font-size="100" font-style="normal" fill="#000" stroke="#000" stroke-width="0.84" stroke-linejoin="round">6</text>
<text transform="translate(533.03 112.67) scale(0.2769 0.2930)" font-size="100" font-style="normal" fill="#000" stroke="#000" stroke-width="0.88" stroke-linejoin="round">2</text>
<text transform="translate(551.13 112.78) scale(0.2713 0.2936)" font-size="100" font-style="normal" fill="#000" stroke="#000" stroke-width="0.89" stroke-linejoin="round">5</text>
<text transform="translate(268.2 577.88) scale(0.3785 0.2834)" font-size="100" font-style="italic" fill="#000" stroke="#000" stroke-width="0.76" stroke-linejoin="round">r</text>
<text transform="translate(286.69 576.48) scale(0.2290 0.3224)" font-size="100" font-style="normal" fill="#000" stroke="#000" stroke-width="0.92" stroke-linejoin="round">[</text>
<text transform="translate(293.94 577.88) scale(0.2927 0.2946)" font-size="100" font-style="italic" fill="#000" stroke="#000" stroke-width="0.85" stroke-linejoin="round">h</text>
<rect x="315.5" y="560" width="12.6" height="2.0" fill="#000"/>
<text transform="translate(330.51 567.38) scale(0.1983 0.1999)" font-size="100" font-style="normal" fill="#000" stroke="#000" stroke-width="1.26" stroke-linejoin="round">1</text>
<text transform="translate(347.54 577.39) scale(0.2782 0.2952)" font-size="100" font-style="normal" fill="#000" stroke="#000" stroke-width="0.87" stroke-linejoin="round">c</text>
<text transform="translate(363.22 577.27) scale(0.2785 0.2994)" font-size="100" font-style="normal" fill="#000" stroke="#000" stroke-width="0.87" stroke-linejoin="round">M</text>
<text transform="translate(387.77 577.18) scale(0.3024 0.2915)" font-size="100" font-style="normal" fill="#000" stroke="#000" stroke-width="0.84" stroke-linejoin="round">p</text>
<text transform="translate(405.5 577.39) scale(0.2782 0.2952)" font-size="100" font-style="normal" fill="#000" stroke="#000" stroke-width="0.87" stroke-linejoin="round">c</text>
<text transform="translate(420.77 576.48) scale(0.1937 0.3224)" font-size="100" font-style="normal" fill="#000" stroke="#000" stroke-width="1" stroke-linejoin="round">]</text>
<text transform="translate(21.4 239.62) scale(0.3133 0.3060) rotate(-90)" font-size="100" font-style="italic" fill="#000" stroke="#000" stroke-width="1.29" stroke-linejoin="round">ξ</text>
<text transform="translate(25.52 223.51) scale(0.1953 0.2026) rotate(-90)" font-size="100" font-style="italic" fill="#000" stroke="#000" stroke-width="1.26" stroke-linejoin="round">g</text>
<text transform="translate(27.57 207.54) scale(0.2381 0.2583) rotate(-90)" font-size="100" font-style="normal" fill="#000" stroke="#000" stroke-width="1.01" stroke-linejoin="round">+</text>
<text transform="translate(19.35 186.11) scale(0.2764 0.2470) rotate(-90)" font-size="100" font-style="normal" fill="#000" stroke="#000" stroke-width="0.96" stroke-linejoin="round">(</text>
<text transform="translate(20.77 175.31) scale(0.2797 0.3213) rotate(-90)" font-size="100" font-style="italic" fill="#000" stroke="#000" stroke-width="0.83" stroke-linejoin="round">r</text>
<text transform="translate(19.35 163.02) scale(0.2764 0.2508) rotate(-90)" font-size="100" font-style="normal" fill="#000" stroke="#000" stroke-width="0.95" stroke-linejoin="round">)</text>
<text transform="translate(21.07 503.72) scale(0.2769 0.2821) rotate(-90)" font-size="100" font-style="normal" fill="#000" stroke="#000" stroke-width="0.89" stroke-linejoin="round">Δ</text>
<text transform="translate(22.28 484.34) scale(0.2867 0.3126) rotate(-90)" font-size="100" font-style="italic" fill="#000" stroke="#000" stroke-width="1.34" stroke-linejoin="round">ξ</text>
<text transform="translate(26.46 469.51) scale(0.2033 0.1824) rotate(-90)" font-size="100" font-style="italic" fill="#000" stroke="#000" stroke-width="1.3" stroke-linejoin="round">g</text>
<text transform="translate(29.03 452.78) scale(0.2565 0.2460) rotate(-90)" font-size="100" font-style="normal" fill="#000" stroke="#000" stroke-width="1" stroke-linejoin="round">+</text>
<text transform="translate(174.51 262.77) scale(0.1946 0.1806)" font-size="100" font-style="normal" fill="#c000c6" stroke="#c000c6" stroke-width="1.33" stroke-linejoin="round">x</text>
<text transform="translate(185.53 261.65) scale(0.1428 0.1684)" font-size="100" font-style="normal" fill="#c000c6" stroke="#c000c6" stroke-width="1.61" stroke-linejoin="round">(</text>
<text transform="translate(192.38 262.76) scale(0.1884 0.1802)" font-size="100" font-style="normal" fill="#c000c6" stroke="#c000c6" stroke-width="1.36" stroke-linejoin="round">y</text>
<text transform="translate(202.57 262.77) scale(0.1869 0.1806)" font-size="100" font-style="normal" fill="#c000c6" stroke="#c000c6" stroke-width="1.36" stroke-linejoin="round">z</text>
<text transform="translate(218.14 262.74) scale(0.1904 0.1812)" font-size="100" font-style="normal" fill="#c000c6" stroke="#c000c6" stroke-width="1.35" stroke-linejoin="round">p</text>
<text transform="translate(229.81 262.77) scale(0.1557 0.1842)" font-size="100" font-style="normal" fill="#c000c6" stroke="#c000c6" stroke-width="1.48" stroke-linejoin="round">l</text>
<text transform="translate(234.59 262.85) scale(0.1571 0.1831)" font-size="100" font-style="normal" fill="#c000c6" stroke="#c000c6" stroke-width="1.47" stroke-linejoin="round">a</text>
<text transform="translate(245.59 262.77) scale(0.1883 0.1817)" font-size="100" font-style="normal" fill="#c000c6" stroke="#c000c6" stroke-width="1.35" stroke-linejoin="round">n</text>
<text transform="translate(256.81 262.85) scale(0.1892 0.1831)" font-size="100" font-style="normal" fill="#c000c6" stroke="#c000c6" stroke-width="1.34" stroke-linejoin="round">e</text>
<text transform="translate(266.97 262.69) scale(0.2371 0.1689)" font-size="100" font-style="normal" fill="#c000c6" stroke="#c000c6" stroke-width="1.25" stroke-linejoin="round">;</text>
<text transform="translate(279.59 262.77) scale(0.2271 0.1845)" font-size="100" font-style="normal" fill="#c000c6" stroke="#c000c6" stroke-width="1.22" stroke-linejoin="round">f</text>
<text transform="translate(286.5 262.77) scale(0.1557 0.1842)" font-size="100" font-style="normal" fill="#c000c6" stroke="#c000c6" stroke-width="1.48" stroke-linejoin="round">i</text>
<text transform="translate(291.04 262.85) scale(0.1902 0.1852)" font-size="100" font-style="normal" fill="#c000c6" stroke="#c000c6" stroke-width="1.33" stroke-linejoin="round">d</text>
<text transform="translate(302.59 262.85) scale(0.1883 0.1864)" font-size="100" font-style="normal" fill="#c000c6" stroke="#c000c6" stroke-width="1.33" stroke-linejoin="round">u</text>
<text transform="translate(313.95 262.85) scale(0.1749 0.1831)" font-size="100" font-style="normal" fill="#c000c6" stroke="#c000c6" stroke-width="1.4" stroke-linejoin="round">c</text>
<text transform="translate(324.26 262.77) scale(0.1557 0.1842)" font-size="100" font-style="normal" fill="#c000c6" stroke="#c000c6" stroke-width="1.48" stroke-linejoin="round">i</text>
<text transform="translate(329.02 262.85) scale(0.1571 0.1831)" font-size="100" font-style="normal" fill="#c000c6" stroke="#c000c6" stroke-width="1.47" stroke-linejoin="round">a</text>
<text transform="translate(340.29 262.77) scale(0.1557 0.1842)" font-size="100" font-style="normal" fill="#c000c6" stroke="#c000c6" stroke-width="1.48" stroke-linejoin="round">l</text>
<text transform="translate(346 261.65) scale(0.1428 0.1684)" font-size="100" font-style="normal" fill="#c000c6" stroke="#c000c6" stroke-width="1.61" stroke-linejoin="round">)</text>
<text transform="translate(174.78 288.86) scale(0.1893 0.1802)" font-size="100" font-style="normal" fill="#12b5b5" stroke="#12b5b5" stroke-width="1.35" stroke-linejoin="round">y</text>
<text transform="translate(185.66 287.75) scale(0.1435 0.1684)" font-size="100" font-style="normal" fill="#12b5b5" stroke="#12b5b5" stroke-width="1.61" stroke-linejoin="round">(</text>
<text transform="translate(192.36 288.88) scale(0.1955 0.1806)" font-size="100" font-style="normal" fill="#12b5b5" stroke="#12b5b5" stroke-width="1.33" stroke-linejoin="round">x</text>
<text transform="translate(202.78 288.88) scale(0.1878 0.1806)" font-size="100" font-style="normal" fill="#12b5b5" stroke="#12b5b5" stroke-width="1.36" stroke-linejoin="round">z</text>
<text transform="translate(218.43 288.84) scale(0.1913 0.1812)" font-size="100" font-style="normal" fill="#12b5b5" stroke="#12b5b5" stroke-width="1.34" stroke-linejoin="round">p</text>
<text transform="translate(230.15 288.88) scale(0.1565 0.1842)" font-size="100" font-style="normal" fill="#12b5b5" stroke="#12b5b5" stroke-width="1.47" stroke-linejoin="round">l</text>
<text transform="translate(234.95 288.95) scale(0.1579 0.1831)" font-size="100" font-style="normal" fill="#12b5b5" stroke="#12b5b5" stroke-width="1.47" stroke-linejoin="round">a</text>
<text transform="translate(246.01 288.88) scale(0.1892 0.1817)" font-size="100" font-style="normal" fill="#12b5b5" stroke="#12b5b5" stroke-width="1.35" stroke-linejoin="round">n</text>
<text transform="translate(257.28 288.95) scale(0.1901 0.1831)" font-size="100" font-style="normal" fill="#12b5b5" stroke="#12b5b5" stroke-width="1.34" stroke-linejoin="round">e</text>
<text transform="translate(269.59 287.75) scale(0.1435 0.1684)" font-size="100" font-style="normal" fill="#12b5b5" stroke="#12b5b5" stroke-width="1.61" stroke-linejoin="round">)</text>
<text transform="translate(174.57 314.97) scale(0.1873 0.1806)" font-size="100" font-style="normal" fill="#ffa500" stroke="#ffa500" stroke-width="1.36" stroke-linejoin="round">z</text>
<text transform="translate(184.69 313.85) scale(0.1431 0.1684)" font-size="100" font-style="normal" fill="#ffa500" stroke="#ffa500" stroke-width="1.61" stroke-linejoin="round">(</text>
<text transform="translate(191.37 314.97) scale(0.1950 0.1806)" font-size="100" font-style="normal" fill="#ffa500" stroke="#ffa500" stroke-width="1.33" stroke-linejoin="round">x</text>
<text transform="translate(202.24 314.96) scale(0.1888 0.1802)" font-size="100" font-style="normal" fill="#ffa500" stroke="#ffa500" stroke-width="1.36" stroke-linejoin="round">y</text>
<text transform="translate(218.57 314.94) scale(0.1908 0.1812)" font-size="100" font-style="normal" fill="#ffa500" stroke="#ffa500" stroke-width="1.34" stroke-linejoin="round">p</text>
<text transform="translate(230.27 314.97) scale(0.1560 0.1842)" font-size="100" font-style="normal" fill="#ffa500" stroke="#ffa500" stroke-width="1.47" stroke-linejoin="round">l</text>
<text transform="translate(235.05 315.05) scale(0.1574 0.1831)" font-size="100" font-style="normal" fill="#ffa500" stroke="#ffa500" stroke-width="1.47" stroke-linejoin="round">a</text>
<text transform="translate(246.08 314.97) scale(0.1887 0.1817)" font-size="100" font-style="normal" fill="#ffa500" stroke="#ffa500" stroke-width="1.35" stroke-linejoin="round">n</text>
<text transform="translate(257.32 315.05) scale(0.1896 0.1831)" font-size="100" font-style="normal" fill="#ffa500" stroke="#ffa500" stroke-width="1.34" stroke-linejoin="round">e</text>
<text transform="translate(269.6 313.85) scale(0.1431 0.1684)" font-size="100" font-style="normal" fill="#ffa500" stroke="#ffa500" stroke-width="1.61" stroke-linejoin="round">)</text>
<text transform="translate(174.26 341.15) scale(0.1712 0.1877)" font-size="100" font-style="normal" fill="#000" stroke="#000" stroke-width="1.39" stroke-linejoin="round">G</text>
<text transform="translate(188.44 341.15) scale(0.1565 0.1831)" font-size="100" font-style="normal" fill="#000" stroke="#000" stroke-width="1.48" stroke-linejoin="round">a</text>
<text transform="translate(199.67 341.07) scale(0.1550 0.1842)" font-size="100" font-style="normal" fill="#000" stroke="#000" stroke-width="1.48" stroke-linejoin="round">l</text>
<text transform="translate(204.43 341.15) scale(0.1565 0.1831)" font-size="100" font-style="normal" fill="#000" stroke="#000" stroke-width="1.48" stroke-linejoin="round">a</text>
<text transform="translate(215.31 341.07) scale(0.1939 0.1806)" font-size="100" font-style="normal" fill="#000" stroke="#000" stroke-width="1.34" stroke-linejoin="round">x</text>
<text transform="translate(226.13 341.06) scale(0.1877 0.1802)" font-size="100" font-style="normal" fill="#000" stroke="#000" stroke-width="1.36" stroke-linejoin="round">y</text>
<text transform="translate(174.42 367.17) scale(0.1831 0.1860)" font-size="100" font-style="normal" fill="#000" stroke="#000" stroke-width="1.35" stroke-linejoin="round">D</text>
<text transform="translate(188.41 367.17) scale(0.1767 0.1860)" font-size="100" font-style="normal" fill="#000" stroke="#000" stroke-width="1.38" stroke-linejoin="round">M</text>
<text transform="translate(209.97 367.25) scale(0.1678 0.1835)" font-size="100" font-style="normal" fill="#000" stroke="#000" stroke-width="1.42" stroke-linejoin="round">s</text>
<text transform="translate(219.2 367.25) scale(0.1893 0.1864)" font-size="100" font-style="normal" fill="#000" stroke="#000" stroke-width="1.33" stroke-linejoin="round">u</text>
<text transform="translate(230.77 367.25) scale(0.1914 0.1852)" font-size="100" font-style="normal" fill="#000" stroke="#000" stroke-width="1.33" stroke-linejoin="round">b</text>
<text transform="translate(242.17 367.17) scale(0.1906 0.1842)" font-size="100" font-style="normal" fill="#000" stroke="#000" stroke-width="1.33" stroke-linejoin="round">h</text>
<text transform="translate(253.74 367.25) scale(0.1579 0.1831)" font-size="100" font-style="normal" fill="#000" stroke="#000" stroke-width="1.47" stroke-linejoin="round">a</text>
<text transform="translate(265.06 367.17) scale(0.1566 0.1842)" font-size="100" font-style="normal" fill="#000" stroke="#000" stroke-width="1.47" stroke-linejoin="round">l</text>
<text transform="translate(269.65 367.25) scale(0.1871 0.1831)" font-size="100" font-style="normal" fill="#000" stroke="#000" stroke-width="1.35" stroke-linejoin="round">o</text>
<line x1="123.9" y1="335.8" x2="158.8" y2="335.8" stroke="#000" stroke-width="2.3" stroke-linecap="butt"/>
<line x1="141.7" y1="326.3" x2="141.7" y2="344.6" stroke="#000" stroke-width="2.2" stroke-linecap="butt"/>
<line x1="134.8" y1="326.3" x2="148.3" y2="326.3" stroke="#000" stroke-width="2.2" stroke-linecap="butt"/>
<line x1="134.8" y1="344.6" x2="148.3" y2="344.6" stroke="#000" stroke-width="2.2" stroke-linecap="butt"/>
<circle cx="141.7" cy="335.8" r="4.6" fill="#000"/>
<line x1="123.5" y1="362" x2="160" y2="362" stroke="#000" stroke-width="2.3" stroke-linecap="butt" stroke-dasharray="1.9 3.7"/>
<line x1="141.6" y1="352.8" x2="141.6" y2="371.4" stroke="#000" stroke-width="2.2" stroke-linecap="butt"/>
<line x1="134.8" y1="352.8" x2="148.3" y2="352.8" stroke="#000" stroke-width="2.2" stroke-linecap="butt"/>
<line x1="134.8" y1="371.4" x2="148.3" y2="371.4" stroke="#000" stroke-width="2.2" stroke-linecap="butt"/>
<rect x="137.6" y="358" width="8.2" height="8.2" fill="#fff" stroke="#000" stroke-width="1.8"/>
<line x1="141.6" y1="358" x2="141.6" y2="366.2" stroke="#000" stroke-width="2.0" stroke-linecap="butt"/>
</svg>
</body></html>
